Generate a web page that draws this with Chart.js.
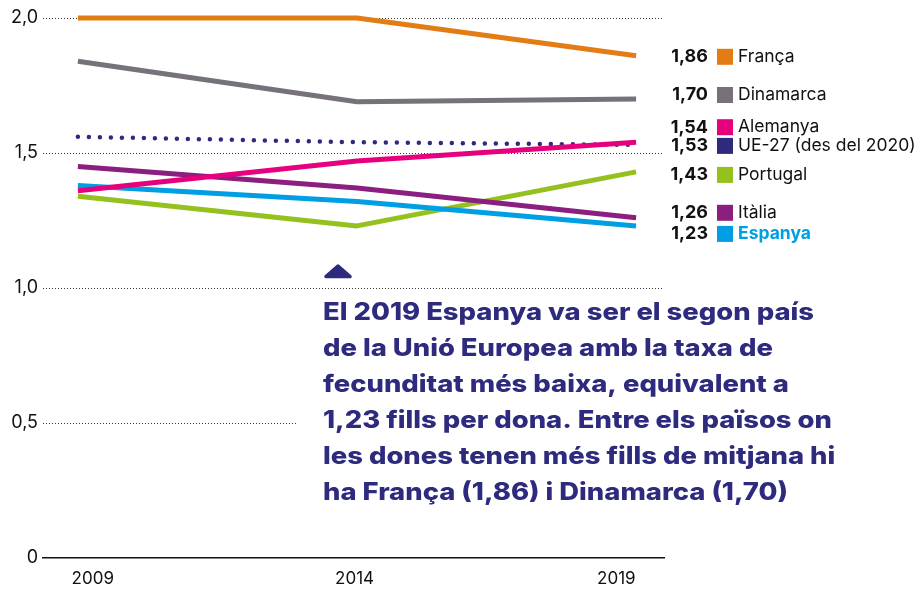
<!DOCTYPE html>
<html>
<head>
<meta charset="utf-8">
<script src="https://cdn.jsdelivr.net/npm/chart.js@4.4.1/dist/chart.umd.min.js"></script>
<style>
  html, body { margin: 0; padding: 0; background: #fff; }
  #wrap { width: 922px; height: 589px; }
</style>
</head>
<body>
<div id="wrap"><canvas id="chart" width="922" height="589"></canvas></div>
<script>
// dades
const YEARS = [2009, 2014, 2019];
const FRANCA    = [2.00, 2.00, 1.86];
const DINAMARCA = [1.84, 1.69, 1.70];
const ALEMANYA  = [1.36, 1.47, 1.54];
const UE27      = [1.56, 1.54, 1.53];
const PORTUGAL  = [1.34, 1.23, 1.43];
const ITALIA    = [1.45, 1.37, 1.26];
const ESPANYA   = [1.38, 1.32, 1.23];
const Y_TICKS   = [0, 0.5, 1.0, 1.5, 2.0];

const NOTE_LINES = [
  'El 2019 Espanya va ser el segon país',
  'de la Unió Europea amb la taxa de',
  'fecunditat més baixa, equivalent a',
  '1,23 fills per dona. Entre els països on',
  'les dones tenen més fills de mitjana hi',
  'ha França (1,86) i Dinamarca (1,70)'
];

const NAVY = '#2E2A7E';
const FONT = 'Inter, "Open Sans", sans-serif';

// ordre: el primer es dibuixa a sobre
const SERIES = [
  { label: 'Alemanya',             data: ALEMANYA,  color: '#E6007E', nudge: -15 },
  { label: 'Espanya',              data: ESPANYA,   color: '#009FE3', nudge: 8, highlight: true },
  { label: 'Itàlia',               data: ITALIA,    color: '#8A1F7F', nudge: -5 },
  { label: 'Portugal',             data: PORTUGAL,  color: '#95C11F', nudge: 3 },
  { label: 'UE-27 (des del 2020)', data: UE27,      color: NAVY,      nudge: 1, dotted: true },
  { label: 'Dinamarca',            data: DINAMARCA, color: '#77717A', nudge: -4 },
  { label: 'França',               data: FRANCA,    color: '#E27D15', nudge: 1 }
];

const datasets = SERIES.map(s => ({
  label: s.label,
  data: s.data.map((v, i) => ({ x: YEARS[i], y: v })),
  borderColor: s.color,
  backgroundColor: s.color,
  borderWidth: s.dotted ? 4.5 : 5,
  borderDash: s.dotted ? [0, 11] : [],
  borderCapStyle: s.dotted ? 'round' : 'butt',
  borderJoinStyle: 'round',
  pointRadius: 0,
  tension: 0,
  clip: false,
  xAxisID: 'x',
  yAxisID: 'y'
}));

// text + triangle
const notePlugin = {
  id: 'note',
  beforeDatasetsDraw(chart) {
    const { ctx, chartArea } = chart;
    ctx.save();
    ctx.fillStyle = '#fff';
    ctx.fillRect(296, 294, chartArea.right - 296 + 1, 216);
    // triangle
    ctx.fillStyle = NAVY;
    ctx.strokeStyle = NAVY;
    ctx.lineWidth = 3.5;
    ctx.lineJoin = 'round';
    ctx.beginPath();
    ctx.moveTo(338, 266);
    ctx.lineTo(350, 276.5);
    ctx.lineTo(326, 276.5);
    ctx.closePath();
    ctx.fill();
    ctx.stroke();
    // text, ajustat a l'amplada de la primera línia
    ctx.font = `800 24px ${FONT}`;
    const k = 491 / ctx.measureText(NOTE_LINES[0]).width;
    ctx.textBaseline = 'middle';
    ctx.textAlign = 'left';
    NOTE_LINES.forEach((t, i) => {
      ctx.save();
      ctx.translate(323, 313 + i * 36);
      ctx.scale(k, 1);
      ctx.fillText(t, 0, 0);
      ctx.restore();
    });
    ctx.restore();
  }
};

// etiquetes a la dreta
const sideLegend = {
  id: 'sideLegend',
  afterDraw(chart) {
    const { ctx } = chart;
    const y = chart.scales.y;
    ctx.save();
    ctx.textBaseline = 'middle';
    SERIES.forEach(s => {
      const last = s.data[s.data.length - 1];
      const py = y.getPixelForValue(last) + s.nudge;
      ctx.font = `bold 18px ${FONT}`;
      ctx.textAlign = 'right';
      ctx.fillStyle = '#111';
      ctx.fillText(last.toFixed(2).replace('.', ','), 708, py);
      ctx.fillStyle = s.color;
      ctx.fillRect(717, py - 8, 16, 16);
      ctx.textAlign = 'left';
      ctx.font = s.highlight ? `bold 17.5px ${FONT}` : `17.5px ${FONT}`;
      ctx.fillStyle = s.highlight ? s.color : '#111';
      ctx.fillText(s.label, 738, py);
    });
    ctx.restore();
  }
};

new Chart(document.getElementById('chart'), {
  type: 'line',
  data: { datasets },
  options: {
    responsive: false,
    animation: false,
    devicePixelRatio: 1,
    layout: { padding: { top: 18, right: 258, left: 0, bottom: 0 } },
    plugins: { legend: { display: false }, tooltip: { enabled: false } },
    scales: {
      x: {
        type: 'linear',
        display: false,
        min: 2008.375,
        max: 2019.5
      },
      xl: {
        type: 'linear',
        position: 'bottom',
        min: 2008.05,
        max: 2019.91,
        afterBuildTicks: sc => { sc.ticks = YEARS.map(v => ({ value: v })); },
        afterFit: sc => { sc.height = 31; },
        grid: { display: false, drawTicks: false },
        border: { display: true, color: '#111', width: 1.5 },
        ticks: {
          padding: 11,
          color: '#111',
          font: { family: FONT, size: 17 },
          callback: v => String(v),
          maxRotation: 0
        }
      },
      y: {
        type: 'linear',
        min: 0,
        max: 2,
        afterBuildTicks: sc => { sc.ticks = Y_TICKS.map(v => ({ value: v })); },
        afterFit: sc => { sc.width = 43; },
        grid: {
          drawTicks: false,
          color: c => c.tick && c.tick.value === 0 ? 'rgba(0,0,0,0)' : '#333',
          lineWidth: 1
        },
        border: { display: false, dash: [1, 2] },
        ticks: {
          padding: 5,
          color: '#111',
          font: { family: FONT, size: 18 },
          callback: v => v === 0 ? '0' : v.toFixed(1).replace('.', ',')
        }
      }
    }
  },
  plugins: [notePlugin, sideLegend]
});
</script>
</body>
</html>
